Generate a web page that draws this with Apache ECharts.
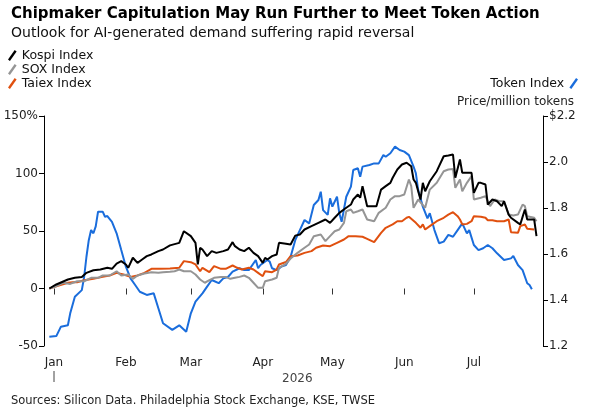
<!DOCTYPE html>
<html>
<head>
<meta charset="utf-8">
<script src="https://cdn.jsdelivr.net/npm/echarts@6/dist/echarts.min.js"></script>
<style>
  html, body { margin: 0; padding: 0; background: #fff; }
  #chart { width: 607px; height: 408px; }
</style>
</head>
<body>
<div id="chart"></div>
<script>
// day of 2026 (0 = Jan 1), value
var kospi = [[-2,0],[1,3.5],[6,7.8],[9,9.3],[12,10.1],[14,13.6],[17,15.9],[20,16.5],[23,18],[25,17.1],[27,21.7],[29,23.8],[31,20.9],[32,18],[34,26.7],[36,22.3],[38,25.2],[40,28.1],[42,29.6],[45,32.5],[47,33.9],[50,37.5],[54,39.7],[56,49.8],[59,45.5],[61,39.7],[62,20.9],[63,35.4],[64,33.9],[66,28.1],[68,32.5],[70,31],[73,32.5],[75,33.9],[77,40.3],[78,36.8],[80,33.9],[82,32.5],[84,35.4],[86,31],[88,28.1],[90,22.3],[91,26.7],[92,25.2],[94,28.1],[96,29.6],[97,39.7],[100,39],[102,38.3],[104,46],[106,47],[108,51.3],[111,54.2],[114,57.1],[117,60],[119,57.1],[121,61.5],[123,65.8],[126,70.2],[128,73],[129,77.4],[131,81.7],[132,78.9],[133,89],[135,71.6],[137,71.6],[139,71.6],[141,86],[143,89],[145,91.9],[146,96.3],[148,103.5],[150,107.8],[152,109.3],[154,106.3],[155,94.8],[156,91.9],[157,84.6],[158,77.4],[159,91.9],[160,84.6],[162,93.3],[165,102],[168,115],[170,115.7],[172,116.5],[173,96.3],[175,112.2],[176,100.6],[178,100.6],[180,100.6],[181,83.2],[183,91.9],[184,91.9],[186,90.4],[187,73],[189,77.4],[191,75.9],[193,71.6],[194,75.9],[196,64.3],[197,61.5],[200,57.1],[201,55.7],[202,62.3],[203,68.7],[204,60],[207,60],[208,45.5]];
var sox = [[-2,0],[1,2],[4,5],[7,4],[10,6.3],[13,6.3],[16,9.3],[19,9.3],[21,11.3],[24,11.3],[27,15],[29,11.3],[32,12.2],[34,8.4],[36,11.3],[39,13],[42,14.2],[45,13.6],[47,14.2],[50,14.5],[52,15],[54,16.5],[56,15],[59,15],[61,12.2],[63,7.8],[65,5],[67,7.2],[69,9.3],[72,10.1],[74,10.1],[76,8.4],[78,9.3],[80,10.1],[82,11.3],[84,9.3],[86,5],[88,0.6],[90,0.6],[91,6.3],[94,7.8],[96,9.3],[97,18],[100,21.5],[102,26],[105,31],[108,35.4],[110,38.3],[112,45.5],[115,47],[117,41.2],[119,45.5],[121,49.8],[123,51.3],[125,57.1],[126,67.2],[128,68.7],[129,65.8],[131,67.2],[133,68.7],[135,60],[138,58.5],[140,65.8],[143,70.2],[145,77.4],[147,80.3],[149,80.3],[151,81.7],[153,94.8],[154,89],[155,70.2],[157,77.4],[160,70.2],[162,86],[165,91.9],[168,102],[170,103.5],[172,104],[173,87.6],[175,94.8],[176,84.6],[178,91.9],[180,97.7],[181,77.4],[184,78.9],[186,80.3],[188,71.6],[190,77.4],[192,75.9],[194,75.9],[196,64.3],[198,63.5],[200,64.3],[202,73],[203,71.6],[204,62.9],[207,61.5],[208,58.5]];
var taiex = [[-2,0],[1,2],[6,5],[8,5.5],[10,5.5],[13,7.2],[17,8.4],[21,10.1],[24,11.3],[27,13.6],[30,12.2],[33,10.1],[36,11.3],[39,13.6],[42,17.1],[46,17.1],[50,17.4],[54,18],[56,23.8],[59,22.9],[61,20.9],[63,15],[64,18],[67,14.2],[69,19.4],[72,17.1],[74,17.1],[77,20],[79,18],[81,16.5],[84,18],[86,16.5],[88,13.6],[90,10.7],[91,15],[94,14.2],[96,16.5],[97,20.9],[100,23],[102,28.1],[105,28.7],[108,31],[111,32.5],[113,35.4],[116,37.4],[119,36.8],[122,39.7],[125,42.6],[127,45.5],[130,45.5],[133,45],[135,43.2],[138,40.3],[141,48.4],[143,52.8],[146,55.7],[148,58.5],[150,58.5],[152,61.5],[153,62.3],[156,57.1],[158,52.8],[159,55.7],[160,51.3],[162,54.2],[165,58.5],[168,61.5],[170,64.3],[172,66.4],[174,62.9],[175,60],[176,55.7],[178,56.2],[180,58.5],[181,62.9],[184,62.3],[186,61.5],[187,59.4],[189,59.4],[191,58.5],[194,58.5],[196,60],[197,49],[200,48.4],[201,54.2],[203,55.7],[204,51.9],[207,51.3]];
var token = [[-2,1.24],[1,1.243],[3,1.284],[6,1.29],[7,1.342],[9,1.414],[12,1.443],[13,1.5],[14,1.588],[15,1.66],[16,1.704],[17,1.69],[18,1.72],[19,1.784],[21,1.784],[22,1.762],[23,1.765],[25,1.74],[27,1.69],[29,1.617],[31,1.545],[33,1.494],[35,1.465],[37,1.436],[40,1.422],[43,1.429],[45,1.364],[47,1.299],[51,1.27],[54,1.29],[57,1.262],[59,1.342],[61,1.393],[64,1.429],[66,1.458],[68,1.487],[71,1.473],[73,1.494],[75,1.5],[77,1.523],[80,1.538],[82,1.53],[84,1.53],[87,1.574],[88,1.538],[89,1.552],[92,1.574],[93,1.567],[94,1.538],[96,1.53],[98,1.545],[100,1.552],[102,1.588],[104,1.66],[106,1.704],[108,1.748],[110,1.733],[112,1.813],[114,1.835],[115,1.871],[116,1.791],[118,1.77],[119,1.842],[120,1.806],[122,1.849],[123,1.777],[124,1.74],[126,1.849],[128,1.893],[129,1.965],[131,1.973],[132,1.936],[133,1.98],[136,1.987],[138,1.994],[140,1.994],[142,2.03],[143,2.023],[145,2.038],[147,2.067],[149,2.052],[151,2.045],[153,2.03],[155,1.98],[156,1.951],[157,1.878],[159,1.806],[161,1.755],[162,1.777],[164,1.704],[166,1.647],[168,1.654],[170,1.683],[172,1.675],[174,1.704],[176,1.733],[178,1.69],[179,1.704],[181,1.639],[183,1.617],[185,1.625],[187,1.639],[189,1.625],[191,1.603],[194,1.574],[197,1.581],[198,1.591],[200,1.552],[202,1.53],[204,1.473],[205,1.465],[206,1.447]];

var leftTicks = [-50, 0, 50, 100, 150];
var rightTicks = [1.2, 1.4, 1.6, 1.8, 2.0, 2.2];
var months = ['Jan','Feb','Mar','Apr','May','Jun','Jul','Aug','Sep','Oct','Nov','Dec'];

var DAY = 86400000;
var jan1 = new Date(2026, 0, 1).getTime();
function toTime(pairs) {
    return pairs.map(function (p) { return [jan1 + p[0] * DAY, p[1]]; });
}

var font = 'DejaVu Sans';
var slash = 'path://M0,10 L7,0 L9,1.5 L2,11.5 Z';

var chart = echarts.init(document.getElementById('chart'));

var option = {
    animation: false,
    textStyle: { fontFamily: font },
    title: [
        { text: 'Chipmaker Capitulation May Run Further to Meet Token Action', left: 6, top: 2,
          textStyle: { fontSize: 15, fontWeight: 'bold', color: '#000', fontFamily: font } },
        { text: 'Outlook for AI-generated demand suffering rapid reversal', left: 6, top: 21,
          textStyle: { fontSize: 14, fontWeight: 'normal', color: '#111', fontFamily: font } },
        { text: 'Price/million tokens', right: 28, top: 91,
          textStyle: { fontSize: 12, fontWeight: 'normal', color: '#222', fontFamily: font } },
        { text: '2026', left: 277, top: 368,
          textStyle: { fontSize: 12, fontWeight: 'normal', color: '#444', fontFamily: font } },
        { text: 'Sources: Silicon Data. Philadelphia Stock Exchange, KSE, TWSE', left: 6, top: 390,
          textStyle: { fontSize: 11.5, fontWeight: 'normal', color: '#222', fontFamily: font } }
    ],
    legend: [
        { data: ['Kospi Index', 'SOX Index', 'Taiex Index'], orient: 'vertical', left: 3, top: 44,
          itemWidth: 9, itemHeight: 11, itemGap: 1, icon: slash,
          textStyle: { fontSize: 12.5, color: '#111' } },
        { data: ['Token Index'], right: 24, top: 72, align: 'right',
          itemWidth: 9, itemHeight: 11, icon: slash,
          textStyle: { fontSize: 12.5, color: '#111' } }
    ],
    grid: { left: 44, right: 64, top: 116, bottom: 62 },
    xAxis: {
        type: 'time',
        min: jan1 - 4.3 * DAY,
        max: jan1 + 210.8 * DAY,
        splitNumber: 8,
        axisLine: { show: false },
        axisTick: { show: true, length: 6, lineStyle: { color: '#333' } },
        splitLine: { show: false },
        axisLabel: {
            margin: 11, fontSize: 12, color: '#222', hideOverlap: false,
            formatter: function (v) { return months[new Date(v).getMonth()]; }
        }
    },
    yAxis: [
        {
            type: 'value', min: leftTicks[0], max: leftTicks[leftTicks.length - 1], interval: 50,
            axisLine: { show: true, lineStyle: { color: '#000', width: 1 } },
            axisTick: { show: true, length: 5, lineStyle: { color: '#000' } },
            splitLine: { show: false },
            axisLabel: { margin: 6, fontSize: 12, color: '#222',
                formatter: function (v) { return v === 150 ? '150%' : String(v); } }
        },
        {
            type: 'value', min: rightTicks[0], max: rightTicks[rightTicks.length - 1], interval: 0.2,
            position: 'right',
            axisLine: { show: true, lineStyle: { color: '#000', width: 1 } },
            axisTick: { show: true, length: 5, lineStyle: { color: '#000' } },
            splitLine: { show: false },
            axisLabel: { margin: 6, fontSize: 12, color: '#222',
                formatter: function (v) { return Math.abs(v - 2.2) < 1e-6 ? '$2.2' : v.toFixed(1); } }
        }
    ],
    graphic: [
        { type: 'line', shape: { x1: 54, y1: 371, x2: 54, y2: 382 }, style: { stroke: '#444', lineWidth: 1 } }
    ],
    series: [
        { name: 'Token Index', type: 'line', yAxisIndex: 1, data: toTime(token), showSymbol: false,
          lineStyle: { width: 2, color: '#1a6ddc' }, itemStyle: { color: '#1a6ddc' } },
        { name: 'Taiex Index', type: 'line', data: toTime(taiex), showSymbol: false,
          lineStyle: { width: 2, color: '#e0500f' }, itemStyle: { color: '#e0500f' } },
        { name: 'SOX Index', type: 'line', data: toTime(sox), showSymbol: false,
          lineStyle: { width: 2, color: '#959595' }, itemStyle: { color: '#959595' } },
        { name: 'Kospi Index', type: 'line', data: toTime(kospi), showSymbol: false,
          lineStyle: { width: 2, color: '#000' }, itemStyle: { color: '#000' } }
    ]
};

chart.setOption(option);
window.onresize = function () { chart.resize(); };
</script>
</body>
</html>
